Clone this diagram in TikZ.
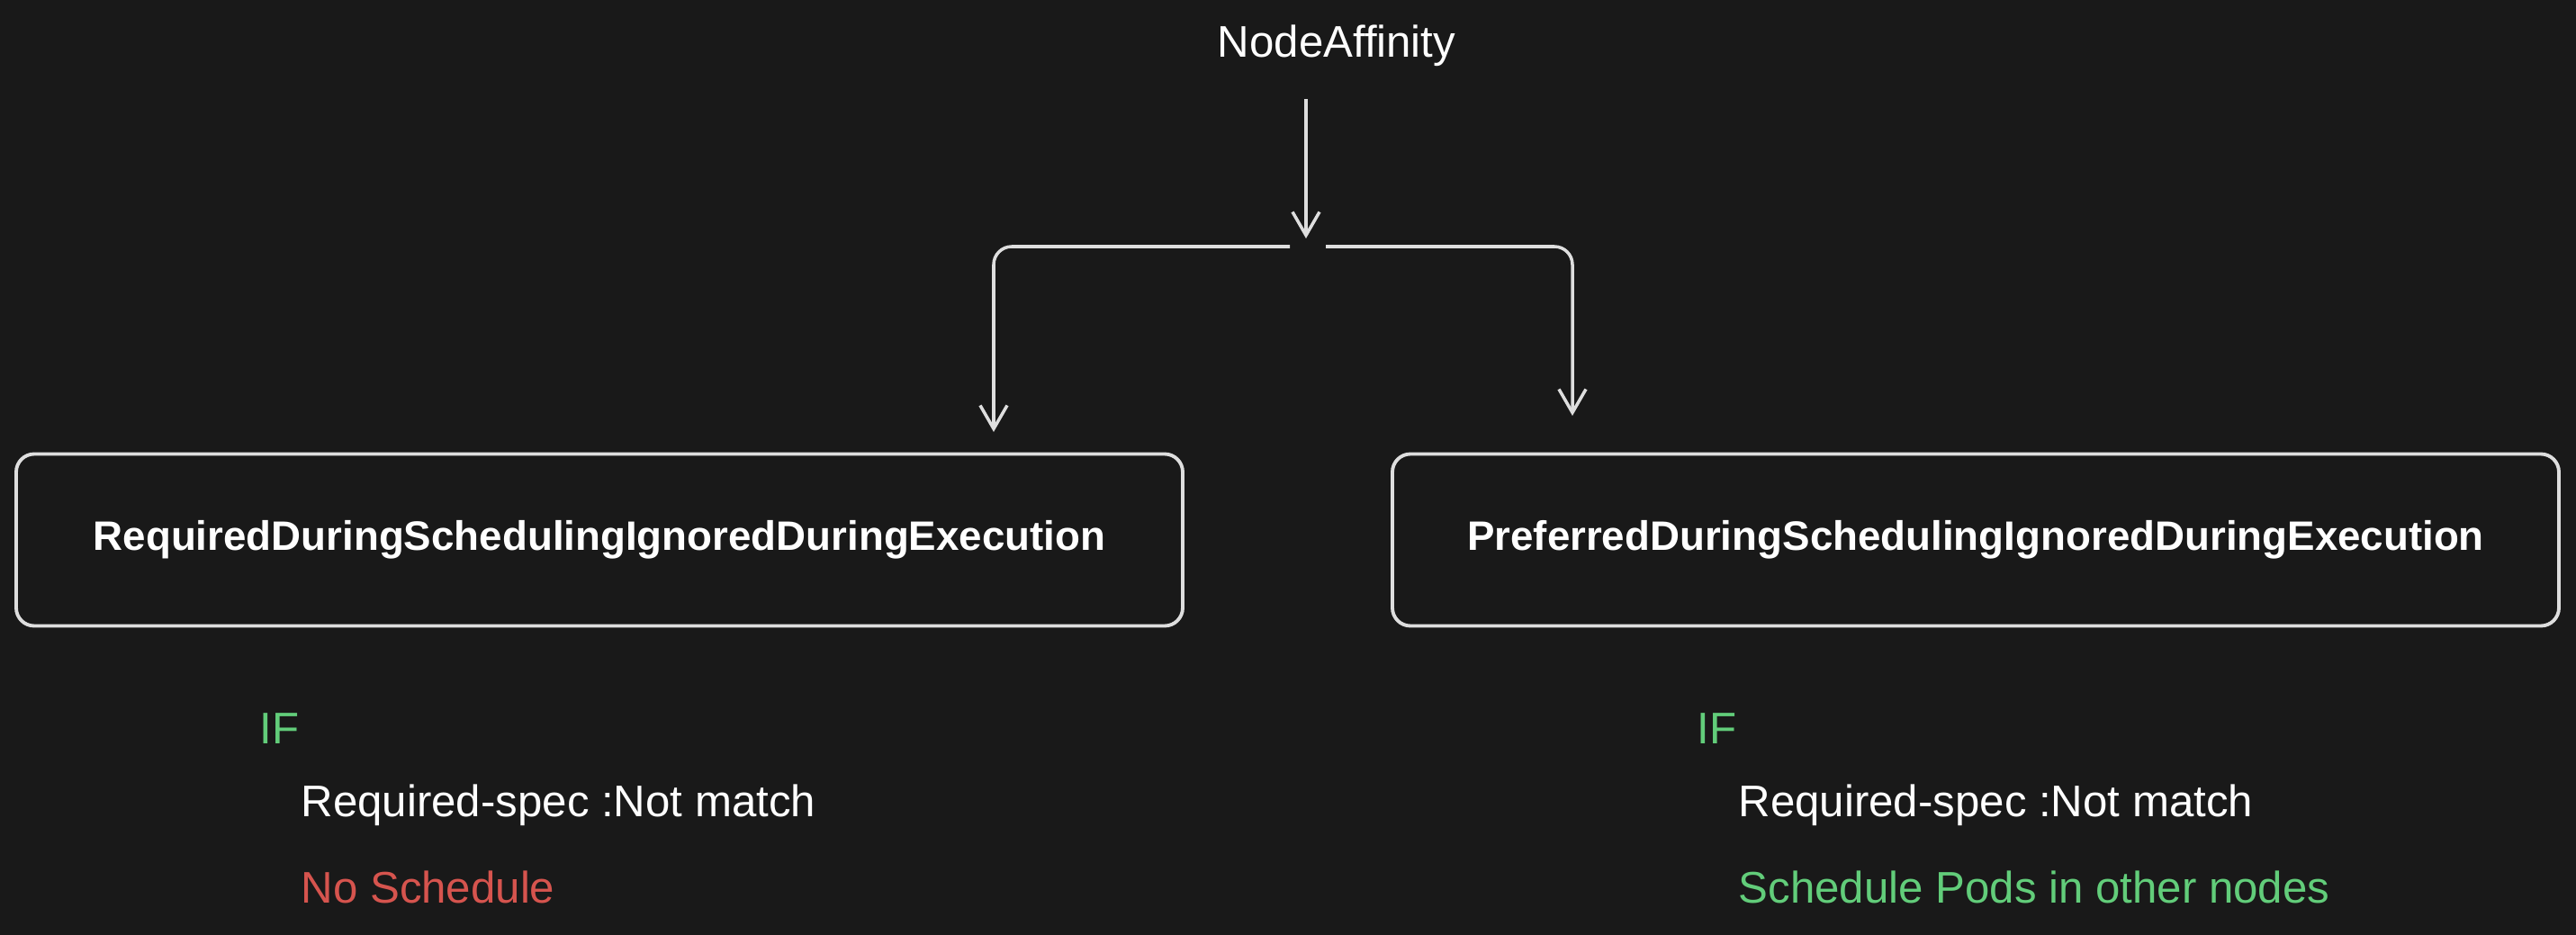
\documentclass[tikz,border=0pt]{standalone}
\usepackage{fontspec}
\setmainfont{Liberation Sans}
\usetikzlibrary{arrows.meta,positioning}
\definecolor{canvas}{RGB}{25,25,25}
\definecolor{strokegray}{RGB}{222,222,222}
\definecolor{okgreen}{RGB}{98,205,122}
\definecolor{nored}{RGB}{214,84,78}

\begin{document}
\begin{tikzpicture}[box/.style={draw=strokegray,line width=1.1pt,rounded corners=0.2cm,minimum width=12.96cm,minimum height=1.91cm,font=\bfseries\fontsize{13}{15}\selectfont,text=white},txt/.style={font=\fontsize{14}{17}\selectfont,text=white,anchor=west,inner sep=0pt},arr/.style={-{Straight Barb[length=0.26cm,width=0.3cm]},strokegray,line width=1pt}]
\fill[canvas](0,0) rectangle (28.62,-10.39);
\useasboundingbox(0,0) rectangle (28.62,-10.39);
\node[font=\fontsize{14}{17}\selectfont,text=white](top) at (14.85,-0.51){NodeAffinity};
\node[box](req) at (6.66,-6.00){RequiredDuringSchedulingIgnoredDuringExecution};
\node[box](pref) at (21.95,-6.00){PreferredDuringSchedulingIgnoredDuringExecution};
\coordinate(fork) at (14.51,-2.74);
\coordinate(lhook) at (11.04,-4.80);
\coordinate(rhook) at (17.47,-4.62);
\draw[arr]([yshift=-0.24cm]top.south -| fork)--([yshift=0.09cm]fork);
\draw[arr,rounded corners=0.2cm]([xshift=-0.18cm]fork)-|(lhook);
\draw[arr,rounded corners=0.2cm]([xshift=0.22cm]fork)-|(rhook);
\node[txt,text=okgreen](lif) at (2.88,-8.10){IF};
\node[txt](lspec) at (3.34,-8.95){Required-spec :Not match};
\node[txt,text=nored](lres) at (3.34,-9.86){No Schedule};
\node[txt,text=okgreen](rif) at (18.85,-8.10){IF};
\node[txt](rspec) at (19.31,-8.95){Required-spec :Not match};
\node[txt,text=okgreen](rres) at (19.31,-9.86){Schedule Pods in other nodes};
\end{tikzpicture}
\end{document}
